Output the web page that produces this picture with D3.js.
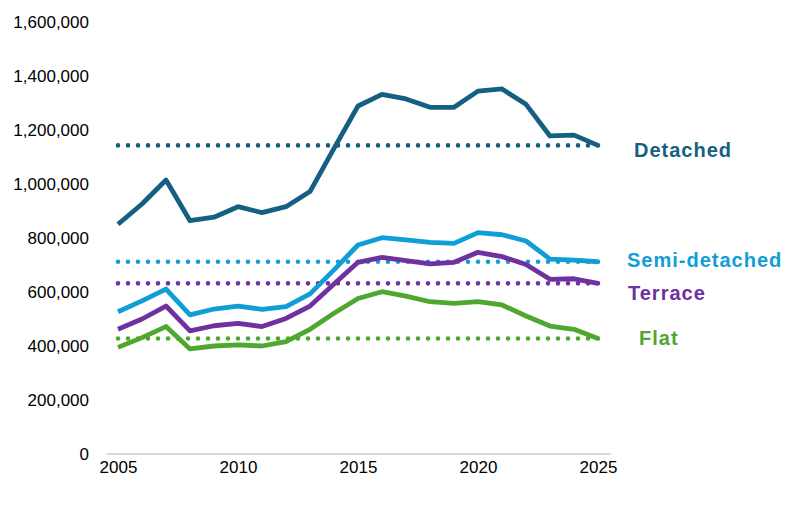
<!DOCTYPE html>
<html>
<head>
<meta charset="utf-8">
<script src="https://cdn.jsdelivr.net/npm/d3@7"></script>
<style>
  body { margin: 0; background: #fff; }
  text { font-family: "Liberation Sans", Arial, sans-serif; }
</style>
</head>
<body>
<svg id="chart" width="809" height="517"></svg>
<script>
"use strict";

// house prices by type
const years = d3.range(2005, 2026);
const detached = [851000, 926000, 1015000, 864000, 877000, 916000, 894000, 916000, 972000, 1132000,
  1289000, 1332000, 1315000, 1284000, 1284000, 1344000, 1352000, 1295000, 1178000, 1181000, 1143000];
const semiDetached = [527000, 567000, 611000, 515000, 537000, 548000, 536000, 546000, 593000, 682000,
  774000, 801000, 793000, 784000, 780000, 820000, 812000, 789000, 722000, 718000, 712000];
const terrace = [462000, 500000, 548000, 456000, 475000, 484000, 472000, 502000, 548000, 630000,
  710000, 728000, 716000, 704000, 710000, 747000, 731000, 702000, 647000, 649000, 632000];
const flat = [395000, 431000, 472000, 389000, 400000, 404000, 400000, 416000, 462000, 521000,
  576000, 601000, 585000, 564000, 558000, 564000, 552000, 511000, 474000, 462000, 428000];
const yTicks = [0, 200000, 400000, 600000, 800000, 1000000, 1200000, 1400000, 1600000];
const xTicks = [2005, 2010, 2015, 2020, 2025];

const series = [
  { name: 'Detached', values: detached, color: '#156082', labelX: 634, labelY: 150 },
  { name: 'Semi-detached', values: semiDetached, color: '#0f9ed5', labelX: 627, labelY: 260 },
  { name: 'Terrace', values: terrace, color: '#7030a0', labelX: 628, labelY: 293 },
  { name: 'Flat', values: flat, color: '#4ea72e', labelX: 639, labelY: 338 }
];

const svg = d3.select('#chart');

let x = d3.scaleLinear().domain([2005, 2025]).range([118, 598]);
let y = d3.scaleLinear().domain([0, 1600000]).range([454, 22]);

// y labels
let yAxis = d3.axisLeft(y).tickValues(yTicks).tickFormat(d3.format(',')).tickSize(0).tickPadding(0);
let gy = svg.append('g').attr('transform', 'translate(89,0)').call(yAxis);
gy.select('.domain').remove();
gy.selectAll('text').attr('font-size', 17).attr('fill', '#000').attr('dy', '0.35em')
  .style('font-family', '"Liberation Sans", Arial, sans-serif');

// x axis: category style line with half-step padding
svg.append('line')
  .attr('x1', x(2004.54)).attr('x2', x(2025.54))
  .attr('y1', y(0)).attr('y2', y(0))
  .attr('stroke', '#d9d9d9').attr('stroke-width', 2);

let xAxis = d3.axisBottom(x).tickValues(xTicks).tickFormat(d3.format('d')).tickSize(0).tickPadding(0);
let gx = svg.append('g').attr('transform', 'translate(0,' + y(0) + ')').call(xAxis);
gx.select('.domain').remove();
gx.selectAll('text').attr('font-size', 17).attr('fill', '#000').attr('dy', '1.1em')
  .style('font-family', '"Liberation Sans", Arial, sans-serif');

let line = d3.line()
  .x((d, i) => x(years[i]))
  .y((d) => y(d));

// dotted reference lines at the latest value
series.forEach((s) => {
  let last = s.values[s.values.length - 1];
  svg.append('line')
    .attr('x1', x(2005)).attr('x2', x(2025) + 1)
    .attr('y1', y(last)).attr('y2', y(last))
    .attr('stroke', s.color)
    .attr('stroke-width', 4.6)
    .attr('stroke-linecap', 'round')
    .attr('stroke-dasharray', '0 10');
});

// draw from bottom to top so detached sits on top
series.slice().reverse().forEach((s) => {
  svg.append('path')
    .datum(s.values)
    .attr('d', line)
    .attr('fill', 'none')
    .attr('stroke', s.color)
    .attr('stroke-width', 4.8)
    .attr('stroke-linejoin', 'round');
});

series.forEach((s) => {
  svg.append('text')
    .attr('x', s.labelX)
    .attr('y', s.labelY)
    .attr('dy', '0.35em')
    .attr('font-size', 20)
    .attr('font-weight', 'bold')
    .attr('letter-spacing', 1.0)
    .attr('fill', s.color)
    .text(s.name);
});
</script>
</body>
</html>
